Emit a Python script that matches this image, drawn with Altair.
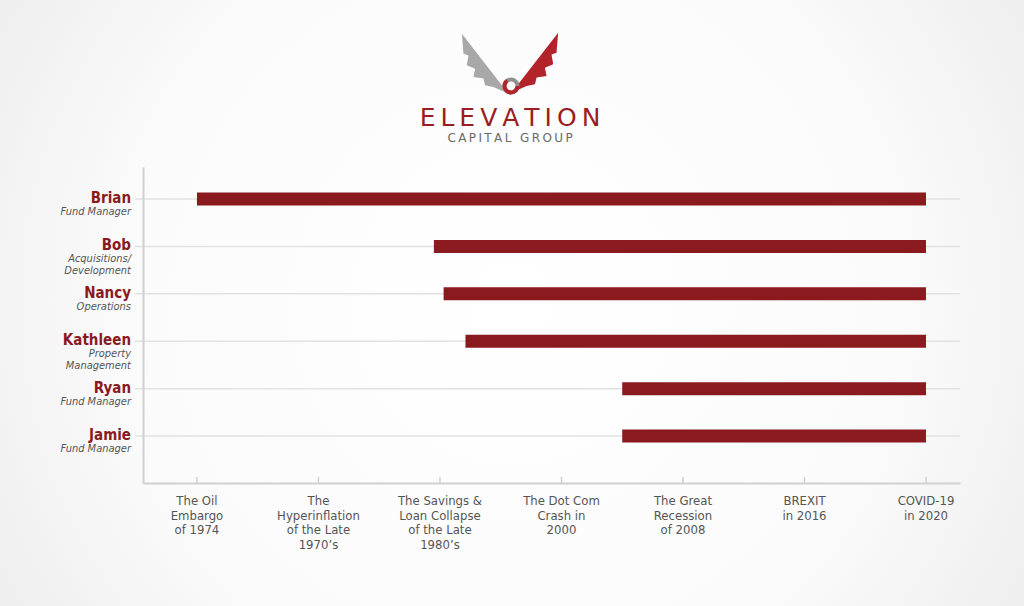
import altair as alt
import pandas as pd

# ---- data ----
people = ["Brian", "Bob", "Nancy", "Kathleen", "Ryan", "Jamie"]
roles = ["Fund Manager", "Acquisitions/\nDevelopment", "Operations",
         "Property\nManagement", "Fund Manager", "Fund Manager"]
starts = [0.0, 1.95, 2.03, 2.21, 3.5, 3.5]
ends = [6, 6, 6, 6, 6, 6]
events = ["The Oil\nEmbargo\nof 1974",
          "The\nHyperinflation\nof the Late\n1970\u2019s",
          "The Savings &\nLoan Collapse\nof the Late\n1980\u2019s",
          "The Dot Com\nCrash in\n2000",
          "The Great\nRecession\nof 2008",
          "BREXIT\nin 2016",
          "COVID-19\nin 2020"]

RED = "#8b1a1e"
GRAY_TXT = "#555555"
LINE = "#d0d0d0"
GRID = "#e2e2e2"
FONT = "Liberation Sans Narrow, DejaVu Sans Condensed, sans-serif"

W, H = 817, 316
OX, OY = 143, 167  # plot origin in page pixels (used for decorative logo placement)

people_df = pd.DataFrame({"row": list(range(len(people))), "name": people,
                          "role": roles, "start": starts, "end": ends})
events_df = pd.DataFrame({"idx": list(range(len(events))), "label": events})

xs = alt.Scale(domain=[-0.444, 6.28], nice=False, zero=False, padding=0)
ys = alt.Scale(domain=[-0.675, 5.99], nice=False, zero=False, reverse=True, padding=0)

one = pd.DataFrame({"a": [0]})

bg = alt.Chart(one).mark_rect(
    color=alt.Gradient(gradient="radial",
                       stops=[alt.GradientStop(color="#ffffff", offset=0),
                              alt.GradientStop(color="#fbfbfb", offset=0.5),
                              alt.GradientStop(color="#e4e4e4", offset=1)],
                       x1=0.5, y1=0.5, r1=0, x2=0.5, y2=0.5, r2=0.75)
).encode(x=alt.value(-OX), x2=alt.value(1024 - OX), y=alt.value(-OY), y2=alt.value(606 - OY))

base = alt.Chart(people_df)

grid = base.mark_rule(color=GRID, strokeWidth=1.5).encode(
    x=alt.value(-8), x2=alt.value(W), y=alt.Y("row:Q", scale=ys))

bars = base.mark_bar(size=13, color=RED).encode(
    x=alt.X("start:Q", scale=xs,
            axis=alt.Axis(values=list(range(7)), labels=False, ticks=False,
                          grid=False, domainColor=LINE, domainWidth=2,
                          title=None, zindex=1)),
    x2="end:Q",
    y=alt.Y("row:Q", scale=ys,
            axis=alt.Axis(values=list(range(6)), labels=False, ticks=False,
                          grid=False, domainColor=LINE, domainWidth=2,
                          title=None, zindex=1)),
)

names = base.mark_text(align="right", baseline="middle", dx=-12, dy=-1,
                       font=FONT, fontSize=15, fontWeight="bold", color=RED).encode(
    x=alt.value(0), y=alt.Y("row:Q", scale=ys), text="name:N")

role_txt = base.mark_text(align="right", baseline="top", dx=-12, dy=7,
                          font=FONT, fontSize=11, fontStyle="italic",
                          color=GRAY_TXT, lineBreak="\n", lineHeight=12).encode(
    x=alt.value(0), y=alt.Y("row:Q", scale=ys), text="role:N")

ev = alt.Chart(events_df)
ticks = ev.mark_rule(color="#cfcfcf", strokeWidth=1.5).encode(
    x=alt.X("idx:Q", scale=xs), y=alt.value(H - 6), y2=alt.value(H))
ev_labels = ev.mark_text(align="center", baseline="top", font=FONT, fontSize=13,
                         color=GRAY_TXT, lineBreak="\n", lineHeight=14.5).encode(
    x=alt.X("idx:Q", scale=xs), y=alt.value(H + 12), text="label:N")

# ---- logo (decorative) ----
RIGHT_WING = ("M -0.4 0.8 L 1 -1 L 0.95 -0.4 L 0.8 -0.35 L 0.85 -0.05 L 0.6 0.05 "
              "L 0.65 0.3 L 0.35 0.35 L 0.3 0.55 L 0.05 0.6 Z")
LEFT_WING = ("M 0.4 0.8 L -1 -1 L -0.95 -0.4 L -0.8 -0.35 L -0.85 -0.05 L -0.6 0.05 "
             "L -0.65 0.3 L -0.35 0.35 L -0.3 0.55 L -0.05 0.6 Z")
wing_l = alt.Chart(one).mark_point(shape=LEFT_WING, filled=True, size=4400,
                                   color="#a8a8a8", opacity=1).encode(
    x=alt.value(495 - OX), y=alt.value(67 - OY))
wing_r = alt.Chart(one).mark_point(shape=RIGHT_WING, filled=True, size=4400,
                                   color="#b3232a", opacity=1).encode(
    x=alt.value(525 - OX), y=alt.value(66 - OY))
ring = alt.Chart(one).mark_point(shape="circle", filled=False, size=170,
                                 strokeWidth=4, color="#8f8f8f", opacity=1).encode(
    x=alt.value(511 - OX), y=alt.value(86 - OY))
ring2 = alt.Chart(one).mark_point(shape="circle", filled=False, size=170,
                                  strokeWidth=4, color="#b3232a", opacity=1,
                                  strokeDash=[26, 20]).encode(
    x=alt.value(511 - OX), y=alt.value(86 - OY))

logo1 = alt.Chart(pd.DataFrame({"t": ["E\u2009L\u2009E\u2009V\u2009A\u2009T\u2009I\u2009O\u2009N"]})).mark_text(
    align="center", baseline="alphabetic", font="DejaVu Sans", fontSize=25,
    color="#9b1c22").encode(x=alt.value(510 - OX), y=alt.value(126 - OY), text="t:N")
logo2 = alt.Chart(pd.DataFrame({"t": ["C\u2009A\u2009P\u2009I\u2009T\u2009A\u2009L\u2009 \u2009G\u2009R\u2009O\u2009U\u2009P"]})).mark_text(
    align="center", baseline="alphabetic", font="DejaVu Sans", fontSize=12,
    color="#6a6a6a").encode(x=alt.value(510 - OX), y=alt.value(142 - OY), text="t:N")

chart = alt.layer(bg, grid, bars, names, role_txt, ticks, ev_labels,
                  wing_l, wing_r, ring, ring2, logo1, logo2).properties(
    width=W, height=H,
    autosize=alt.AutoSizeParams(type="none"),
    padding={"left": OX, "top": OY, "right": 1024 - OX - W, "bottom": 606 - OY - H},
    background="#f3f3f3",
).configure_view(stroke=None)

chart.save("out.html", embed_options={"renderer": "svg", "actions": False})
